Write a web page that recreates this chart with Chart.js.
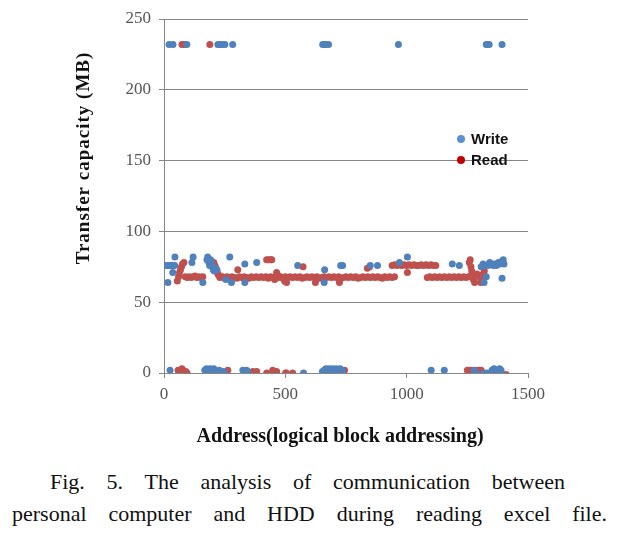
<!DOCTYPE html>
<html>
<head>
<meta charset="utf-8">
<script src="https://cdn.jsdelivr.net/npm/chart.js@4.4.0/dist/chart.umd.min.js"></script>
<style>
  body { margin: 0; background: #fff; width: 618px; height: 533px; overflow: hidden; }
  #wrap { position: relative; width: 618px; height: 460px; }
  .cap { position: absolute; font-family: "Liberation Serif", "Times New Roman", serif; font-size: 22px; color: #111;
         text-align: justify; text-align-last: justify; white-space: nowrap; }
</style>
</head>
<body>
<div id="wrap"><canvas id="chartCanvas" width="618" height="460"></canvas></div>
<div class="cap" style="left:50px; top:469px; width:515px;">Fig. 5. The analysis of communication between</div>
<div class="cap" style="left:12px; top:501px; width:595px;">personal computer and HDD during reading excel file.</div>
<script>
// axis ticks
const xTicks = [0, 500, 1000, 1500];
const yTicks = [0, 50, 100, 150, 200, 250];

// Write series (address, MB)
const writeX = [21, 37, 94, 222, 230, 240, 251, 283, 654, 662, 678, 966, 1328, 1334, 1340, 1393,
  2, 8, 14, 20, 26, 32, 38, 44, 16, 45, 36, 115, 120, 160, 177, 180, 185, 188, 192, 196, 200, 203, 207, 212, 218,
  255, 271, 278, 333, 333, 382, 551, 660, 662, 728, 736, 850, 880, 970, 1003, 1188, 1217,
  1307, 1315, 1319, 1322, 1328, 1335, 1342, 1350, 1357, 1363, 1370, 1378, 1385, 1393, 1398, 1401, 1393,
  25, 168, 175, 182, 190, 198, 205, 210, 218, 222, 228, 235, 240, 245, 250, 325, 332, 340, 345, 575,
  653, 660, 667, 674, 681, 688, 695, 702, 710, 718, 726, 733, 736, 1101, 1155, 1278, 1286, 1319, 1326, 1332,
  1352, 1360, 1368, 1376, 1383, 1389];
const writeY = [232, 232, 232, 232, 232, 232, 232, 232, 232, 232, 232, 232, 232, 232, 232, 232,
  76, 76, 76, 76, 76, 76, 76, 76, 64, 82, 71, 78, 82, 64, 80, 82, 78, 76, 80, 77, 75, 73, 72, 74, 73,
  66, 82, 64, 77, 64, 78, 76, 64, 73, 76, 76, 76, 76, 78, 82, 77, 76,
  75, 77, 64, 76, 68, 76, 78, 77, 76, 77, 76, 78, 77, 79, 80, 77, 67,
  2, 2, 3, 2, 3, 2, 3, 2, 1, -1, 2, 0, -2, 1, 0, 2, 1, 2, 1, 0,
  1, 2, 3, 2, 3, 2, 3, 2, 3, 2, 3, 2, 1, 2, 2, 2, 0, 0, -1, 0,
  2, 3, 2, 2, 3, 2];

// Read series (address, MB)
const readX = [74, 82, 86, 189, 666,
  55, 60, 64, 68, 72, 76, 82,
  88, 96, 104, 112, 120, 128, 136, 144, 152, 160,
  205, 210, 214, 218, 222, 226,
  230, 240, 250, 260, 270, 280, 290, 300, 310, 320, 330, 340, 350, 360, 370, 380, 390, 400, 410, 420,
  430, 440, 450, 460, 470, 480, 490, 500, 510, 520, 530, 540, 550, 560, 570, 580, 590, 600, 610, 620,
  630, 640, 650, 660, 670, 680, 690, 700, 710, 720, 730, 740, 750, 760, 770, 780, 790, 800, 810, 820,
  830, 840, 850, 860, 870, 880, 890, 900, 910, 920, 930, 940, 950,
  304, 423, 432, 440, 444, 456, 464, 469, 497, 505, 573, 624, 723, 838, 847,
  940, 950, 960, 970, 980, 990, 1000, 1010, 1020, 1030, 1040, 1050, 1060, 1070, 1080, 1090, 1100, 1110, 1120, 1003,
  1085, 1095, 1105, 1115, 1125, 1135, 1145, 1155, 1165, 1175, 1185, 1195, 1205, 1215, 1225, 1235, 1245, 1255,
  1258, 1262, 1265, 1268, 1270, 1275, 1280, 1290, 1300, 1305, 1310, 1315, 1320,
  58, 62, 66, 70, 74, 78, 84, 90, 95, 201, 263, 366, 374, 382, 423, 448, 455, 460, 464, 501, 504, 530,
  723, 744, 1250, 1258, 1266, 1291, 1299, 1307, 1410];
const readY = [232, 232, 232, 232, 232,
  65, 68, 71, 73, 75, 77, 78,
  68, 67.5, 68, 67.5, 68, 68.5, 67.5, 68, 67.5, 68,
  78, 76, 74, 72, 70, 69,
  67.5, 68, 67, 68, 67.5, 68, 67.5, 67, 68, 67.5, 68, 67.5, 67, 68, 67.5, 68, 67.5, 68, 67.5, 68,
  67, 68, 67.5, 68, 67.5, 68, 67, 68, 67.5, 68, 67.5, 68, 67.5, 68, 67, 67.5, 68, 67.5, 68, 67.5,
  68, 67, 67.5, 68, 67.5, 68, 67.5, 68, 67.5, 68, 67, 67.5, 68, 67.5, 68, 67.5, 68, 67, 67.5, 68,
  67.5, 68, 67.5, 68, 67.5, 68, 67.5, 67, 68, 67.5, 68, 67.5, 68,
  73, 80, 80, 80, 80, 66, 71, 69, 65, 64, 75, 64, 64, 74, 75,
  76, 76.5, 76, 76.5, 76, 76.5, 76, 76.5, 76, 76.5, 76, 76, 76.5, 76, 76.5, 76, 76.5, 76, 76, 71,
  67.5, 68, 67.5, 68, 67.5, 68, 67.5, 68, 67.5, 68, 67.5, 68, 67.5, 68, 67.5, 68, 67.5, 68,
  78, 80, 75, 72, 70, 66, 64, 70, 68, 64, 66, 70, 72,
  2, 0, -1, 1, 3, 2, 0, 1, 0, 0, 2, 1, 0, 1, 0, 2, 0, -1, 1, 0, 0, 0,
  0, 2, 2, 2, 2, 2, 2, 2, -1];

const writeColor = '#4F81BD';
const readColor = '#C0504D';

function toPoints(xs, ys) {
    return xs.map((x, i) => ({ x: x, y: ys[i] }));
}

const ctx = document.getElementById('chartCanvas').getContext('2d');

// legend and axis titles drawn by hand so they sit where the original has them
const extras = {
    id: 'extras',
    afterDraw(chart) {
        const c = chart.ctx;
        c.save();
        c.font = 'bold 20px "Liberation Serif", serif';
        c.fillStyle = '#111';
        c.textAlign = 'center';
        c.textBaseline = 'middle';
        c.fillText('Address(logical block addressing)', 340, 437);
        c.font = 'bold 19px "Liberation Serif", serif';
        c.letterSpacing = '1px';
        c.translate(84, 158);
        c.rotate(-Math.PI / 2);
        c.fillText('Transfer capacity (MB)', 0, 0);
        c.restore();

        c.save();
        const entries = [['Write', '#5B8FD6', 139], ['Read', '#C00000', 160]];
        c.font = 'bold 15px "Liberation Sans", Arial, sans-serif';
        c.textBaseline = 'middle';
        entries.forEach(([label, col, y]) => {
            c.fillStyle = col;
            c.beginPath();
            c.arc(461, y, 4, 0, Math.PI * 2);
            c.fill();
            c.fillStyle = '#111';
            c.fillText(label, 471, y + 1);
        });
        c.restore();
    }
};

new Chart(ctx, {
    type: 'scatter',
    data: {
        datasets: [
            { label: 'Write', data: toPoints(writeX, writeY), backgroundColor: writeColor, borderWidth: 0, pointRadius: 3.5, pointHoverRadius: 3.5 },
            { label: 'Read', data: toPoints(readX, readY), backgroundColor: readColor, borderWidth: 0, pointRadius: 3.5, pointHoverRadius: 3.5 }
        ]
    },
    options: {
        responsive: false,
        animation: false,
        layout: { padding: { left: 0, top: 19, right: 90, bottom: 0 } },
        plugins: { legend: { display: false }, tooltip: { enabled: false } },
        scales: {
            x: {
                type: 'linear', min: 0, max: 1500,
                afterBuildTicks: (s) => { s.ticks = xTicks.map(v => ({ value: v })); },
                afterFit: (s) => { s.height = 87; },
                grid: { drawOnChartArea: false, drawTicks: true, tickLength: 5, color: '#868686' },
                border: { color: '#868686' },
                ticks: { padding: 6, color: '#555', font: { family: '"Liberation Serif", serif', size: 17 },
                         callback: (v) => String(v) }
            },
            y: {
                type: 'linear', min: 0, max: 250,
                afterBuildTicks: (s) => { s.ticks = yTicks.map(v => ({ value: v })); },
                afterFit: (s) => { s.width = 164; },
                grid: { drawTicks: true, tickLength: 5, color: '#868686' },
                border: { color: '#868686' },
                ticks: { padding: 8, color: '#555', font: { family: '"Liberation Serif", serif', size: 17 },
                         callback: (v) => String(v) }
            }
        }
    },
    plugins: [extras]
});
</script>
</body>
</html>
